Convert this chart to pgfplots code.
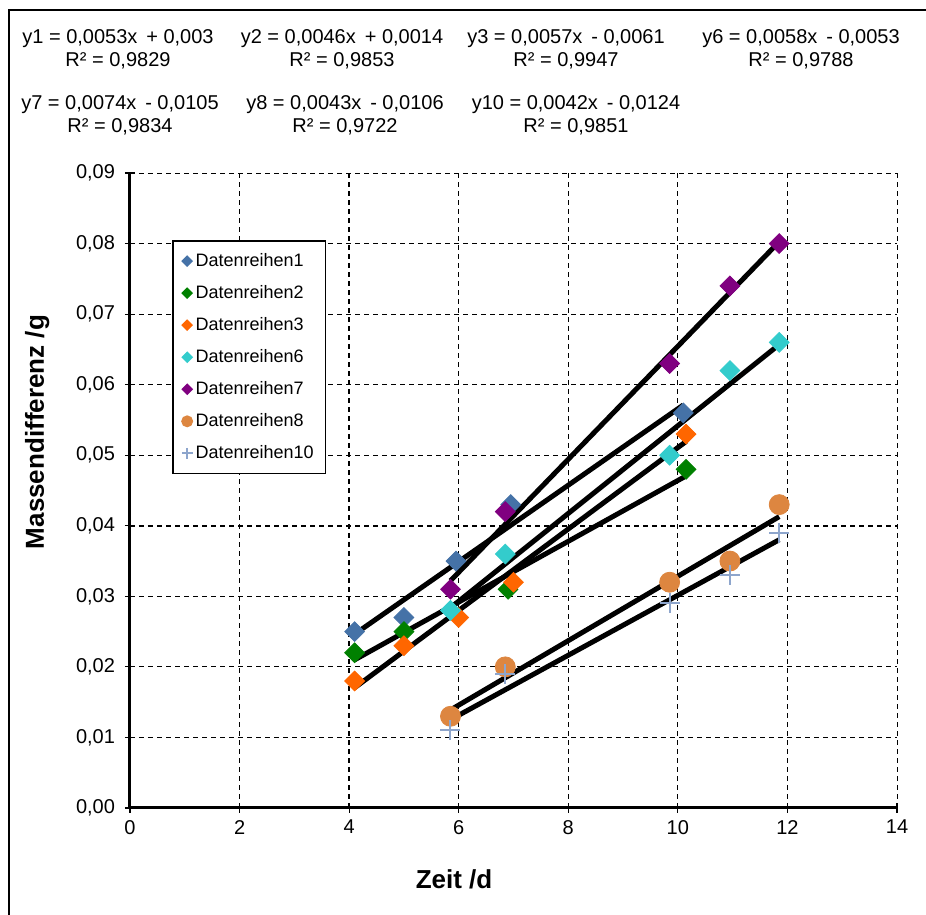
\documentclass[border=0pt]{standalone}
\usepackage{fontspec}
\setmainfont{Liberation Sans}
\usepackage{pgfplots}
\usepackage{pgfplotstable}
\pgfplotsset{compat=1.18}
\definecolor{cA}{HTML}{4572A7}
\definecolor{cB}{HTML}{008000}
\definecolor{cC}{HTML}{FF6600}
\definecolor{cF}{HTML}{33CCCC}
\definecolor{cG}{HTML}{800080}
\definecolor{cH}{HTML}{DD8640}
\definecolor{cJ}{HTML}{8DA5CC}

\pgfplotstableread{
x y
4.1 0.025
5.0 0.027
5.95 0.035
6.95 0.043
10.1 0.056
}\dA
\pgfplotstableread{
x y
4.1 0.022
5.0 0.025
6.9 0.031
10.15 0.048
}\dB
\pgfplotstableread{
x y
4.1 0.018
5.0 0.023
6.0 0.027
7.0 0.032
10.15 0.053
}\dC
\pgfplotstableread{
x y
5.85 0.028
6.85 0.036
9.85 0.050
10.95 0.062
11.85 0.066
}\dF
\pgfplotstableread{
x y
5.85 0.031
6.85 0.042
9.85 0.063
10.95 0.074
11.85 0.080
}\dG
\pgfplotstableread{
x y
5.85 0.013
6.85 0.020
9.85 0.032
10.95 0.035
11.85 0.043
}\dH
\pgfplotstableread{
x y
5.85 0.011
6.85 0.019
9.85 0.029
10.95 0.033
11.85 0.039
}\dJ

\begin{document}
\begin{tikzpicture}
\path[use as bounding box] (0,0) rectangle (463pt,457.5pt);
\draw[line width=0.6pt] (4.5pt,0) -- (4.5pt,452.5pt) -- (463pt,452.5pt);
\begin{scope}[font=\fontsize{10}{11.5}\selectfont]
\node[align=center] at (59pt,433pt) {y1 = 0,0053x \,+ 0,003\\R² = 0,9829};
\node[align=center] at (171pt,433pt) {y2 = 0,0046x \,+ 0,0014\\R² = 0,9853};
\node[align=center] at (283pt,433pt) {y3 = 0,0057x \,- 0,0061\\R² = 0,9947};
\node[align=center] at (400.5pt,433pt) {y6 = 0,0058x \,- 0,0053\\R² = 0,9788};
\node[align=center] at (60pt,400pt) {y7 = 0,0074x \,- 0,0105\\R² = 0,9834};
\node[align=center] at (172.5pt,400pt) {y8 = 0,0043x \,- 0,0106\\R² = 0,9722};
\node[align=center] at (288pt,400pt) {y10 = 0,0042x \,- 0,0124\\R² = 0,9851};
\end{scope}
\begin{axis}[
  at={(65pt,53.5pt)}, anchor=south west,
  scale only axis, width=383.5pt, height=317.5pt,
  xmin=0, xmax=14, ymin=0, ymax=0.09,
  xtick={0,2,4,6,8,10,12,14},
  ytick={0,0.01,0.02,0.03,0.04,0.05,0.06,0.07,0.08,0.09},
  scaled y ticks=false, scaled x ticks=false,
  axis x line*=bottom, axis y line*=left,
  axis line style={line width=1.5pt, -},
  tick align=center, major tick length=5pt,
  tick style={line width=0.6pt, black},
  grid=major,
  grid style={black, line width=0.5pt, dash pattern=on 2.5pt off 2pt},
  extra y ticks={0.04,0.08}, extra x ticks={4},
  extra tick style={grid style={black, line width=0.9pt, dash pattern=on 2.5pt off 2pt}},
  extra y tick labels={}, extra x tick labels={},
  tick label style={font=\fontsize{10}{12}\selectfont},
  /pgf/number format/assume math mode=true,
  yticklabel style={/pgf/number format/fixed, /pgf/number format/fixed zerofill, /pgf/number format/precision=2, /pgf/number format/use comma, xshift=-1.5pt},
  xticklabel style={/pgf/number format/use comma},
  xlabel={Zeit /d}, ylabel={Massendifferenz /g},
  label style={font=\fontsize{13}{15}\selectfont\bfseries},
  xlabel style={at={(axis description cs:0.4225,-0.113)}, anchor=center},
  ylabel style={at={(axis description cs:-0.121,0.592)}, anchor=center},
  legend style={at={(axis description cs:0.0548,0.894)}, anchor=north west,
    draw=black, line width=0.75pt, font=\fontsize{9}{10}\selectfont,
    row sep=5pt, inner xsep=4.5pt, inner ysep=4.5pt,
    nodes={inner sep=1.5pt}},
  legend cell align=left,
  legend image code/.code={\draw[mark repeat=2,mark phase=2,#1] plot coordinates {(0cm,0cm)(0.12cm,0cm)(0.24cm,0cm)};},
  clip=false,
]
\addplot[only marks, mark=square*, color=cA, mark size=3.5pt, every mark/.append style={rotate=45}, legend image post style={mark size=1.7pt}] table[x=x,y=y] {\dA};
\addlegendentry{Datenreihen1}
\addplot[only marks, mark=square*, color=cB, mark size=3.5pt, every mark/.append style={rotate=45}, legend image post style={mark size=1.7pt}] table[x=x,y=y] {\dB};
\addlegendentry{Datenreihen2}
\addplot[only marks, mark=square*, color=cC, mark size=3.5pt, every mark/.append style={rotate=45}, legend image post style={mark size=1.7pt}] table[x=x,y=y] {\dC};
\addlegendentry{Datenreihen3}
\addplot[only marks, mark=square*, color=cF, mark size=3.5pt, every mark/.append style={rotate=45}, legend image post style={mark size=1.7pt}] table[x=x,y=y] {\dF};
\addlegendentry{Datenreihen6}
\addplot[only marks, mark=square*, color=cG, mark size=3.5pt, every mark/.append style={rotate=45}, legend image post style={mark size=1.7pt}] table[x=x,y=y] {\dG};
\addlegendentry{Datenreihen7}
\addplot[only marks, mark=*, color=cH, mark size=5pt, legend image post style={mark size=2.6pt}] table[x=x,y=y] {\dH};
\addlegendentry{Datenreihen8}
\addplot[only marks, mark=+, color=cJ, mark size=5pt, line width=1pt, legend image post style={mark size=2.7pt}] table[x=x,y=y] {\dJ};
\addlegendentry{Datenreihen10}
\addplot[black, line width=2.5pt, forget plot] table[x=x, y={create col/linear regression={y=y}}] {\dA};
\addplot[black, line width=2.5pt, forget plot] table[x=x, y={create col/linear regression={y=y}}] {\dB};
\addplot[black, line width=2.5pt, forget plot] table[x=x, y={create col/linear regression={y=y}}] {\dC};
\addplot[black, line width=2.5pt, forget plot] table[x=x, y={create col/linear regression={y=y}}] {\dF};
\addplot[black, line width=2.5pt, forget plot] table[x=x, y={create col/linear regression={y=y}}] {\dG};
\addplot[black, line width=2.5pt, forget plot] table[x=x, y={create col/linear regression={y=y}}] {\dH};
\addplot[black, line width=2.5pt, forget plot] table[x=x, y={create col/linear regression={y=y}}] {\dJ};
\end{axis}
\end{tikzpicture}
\end{document}
